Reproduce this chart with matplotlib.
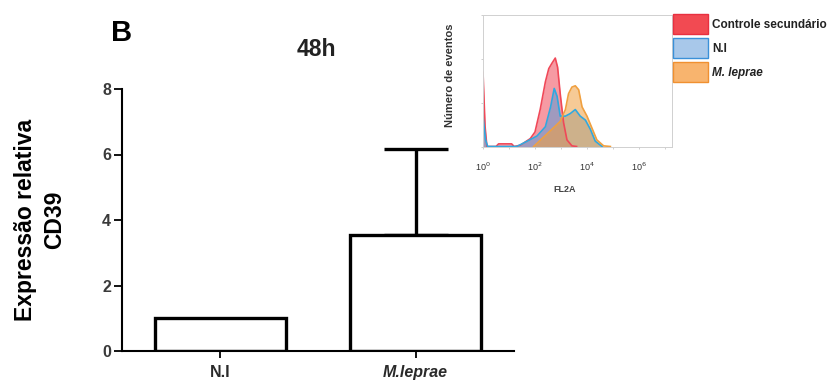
import matplotlib
matplotlib.use("Agg")
import matplotlib.pyplot as plt
from matplotlib.patches import Patch

plt.rcParams['font.family'] = ['Liberation Sans', 'DejaVu Sans']

# Main bar chart data
categories = ["N.I", "M.leprae"]
values = [1.0, 3.55]
errors = [0.0, 2.62]
yticks = [0, 2, 4, 6, 8]

# Inset histogram data (x in log10 units of FL2A, y relative counts)
red_x = [0.0, 0.0, 0.08, 0.15, 0.5, 0.6, 1.1, 1.2, 1.44, 1.82, 2.0, 2.2, 2.4, 2.53, 2.65, 2.78, 2.87, 2.97, 3.1, 3.23, 3.42, 3.6]
red_y = [0, 56.5, 15, 0, 0, 2, 2, 0, 1, 6, 11, 28, 49, 59, 63, 67, 60, 40, 18, 5, 0.5, 0]
blue_x = [0.0, 0.0, 0.1, 0.18, 1.3, 1.7, 2.08, 2.4, 2.6, 2.74, 2.85, 2.97, 3.17, 3.36, 3.55, 3.74, 3.94, 4.13, 4.32, 4.58]
blue_y = [0, 23, 5, 0, 0, 4, 8, 15, 30, 44, 38, 23, 23, 25, 28, 23, 20, 13, 4, 0]
orange_x = [1.95, 2.27, 2.65, 2.97, 3.17, 3.29, 3.42, 3.55, 3.68, 3.81, 4.0, 4.19, 4.38, 4.64, 4.9]
orange_y = [0, 6, 13, 19, 28, 40, 45, 46, 43, 30, 23, 14, 5, 0.5, 0]
hist_xticks = [0, 2, 4, 6]
hist_xticklabels = ["10$^{0}$", "10$^{2}$", "10$^{4}$", "10$^{6}$"]
hist_minor = [1, 3, 5, 7]
legend_labels = ["Controle secundário", "N.I", "M. leprae"]

fig = plt.figure(figsize=(8.29, 3.80), dpi=100)
fig.patch.set_facecolor("white")

ax = fig.add_axes([122/829, 29/380, (514-122)/829, (351-89)/380])
pos = [0, 1]
ax.bar(pos, values, width=0.67, facecolor="white", edgecolor="black", linewidth=2.4, zorder=2)
ax.errorbar([pos[1]], [values[1]], yerr=[[0], [errors[1]]], fmt="none", ecolor="black",
            elinewidth=2.4, capsize=23, capthick=2.4, zorder=1)
ax.set_xlim(-0.504, 1.504)
ax.set_ylim(0, 8)
ax.set_yticks(yticks)
ax.set_xticks(pos)
ax.set_xticklabels(categories, fontsize=11.5, fontweight="bold")
ax.get_xticklabels()[1].set_style("italic")
for t in ax.get_yticklabels():
    t.set_fontweight("bold")
ax.tick_params(axis="y", labelsize=11.5, length=6, width=1.3, colors="black", labelcolor="#3a3a3a", pad=2)
ax.tick_params(axis="x", length=5, width=1.3, pad=5, labelcolor="#2a2a2a")
for s in ["top", "right"]:
    ax.spines[s].set_visible(False)
for s in ["left", "bottom"]:
    ax.spines[s].set_linewidth(1.5)
ax.set_ylabel("Expressão relativa\nCD39", fontsize=16.5, fontweight="bold", labelpad=26, linespacing=1.3)
fig.text(316/829, 1 - 50/380, "48h", fontsize=16.5, fontweight="bold", ha="center", va="center", color="#222222")
fig.text(111/829, 1 - 33/380, "B", fontsize=21, fontweight="bold", ha="left", va="center")

# Inset
axi = fig.add_axes([483/829, 1 - 146.5/380, 189/829, 132/380])
axi.fill_between(red_x, red_y, color="#f04858", alpha=0.55, linewidth=0)
axi.plot(red_x, red_y, color="#f04858", linewidth=1.2)
axi.fill_between(blue_x, blue_y, color="#5a9ad5", alpha=0.55, linewidth=0)
axi.plot(blue_x, blue_y, color="#30a8e0", linewidth=1.2)
axi.fill_between(orange_x, orange_y, color="#f0a040", alpha=0.55, linewidth=0)
axi.plot(orange_x, orange_y, color="#f0a040", linewidth=1.2)
axi.set_xlim(0, 7.27)
axi.set_ylim(0, 100)
axi.set_xticks(hist_xticks)
axi.set_xticks(hist_minor, minor=True)
axi.set_xticklabels(hist_xticklabels, fontsize=6.5)
axi.set_yticks([0, 33, 66, 100])
axi.set_yticklabels([])
axi.tick_params(axis="both", which="both", length=1.5, width=0.5, colors="#bbbbbb", labelcolor="#333333", pad=9)
for s in axi.spines.values():
    s.set_color("#d0d0d0")
    s.set_linewidth(0.7)
axi.set_ylabel("Número de eventos", fontsize=8, fontweight="bold", color="#333333")
axi.yaxis.set_label_coords((455 - 483) / 189, 0.54)
axi.set_xlabel("FL2A", fontsize=6.5, fontweight="bold", color="#444444")
axi.xaxis.set_label_coords((565 - 483) / 189, (146 - 185) / 132)

handles = [Patch(facecolor="#f24a52", edgecolor="#e83040", linewidth=1),
           Patch(facecolor="#a8c8ea", edgecolor="#3a90d8", linewidth=1),
           Patch(facecolor="#f8b46e", edgecolor="#f09030", linewidth=1)]
leg = axi.legend(handles, legend_labels, loc="upper left", bbox_to_anchor=(1.005, 1.0), frameon=False,
                 fontsize=8.5, handlelength=3.0, handleheight=2.2, labelspacing=0.35, handletextpad=0.3,
                 borderaxespad=0.0, borderpad=0.0)
for i, t in enumerate(leg.get_texts()):
    t.set_fontweight("bold")
    t.set_color("#222222")
    if i == 2:
        t.set_style("italic")

fig.savefig("out.png", dpi=100, facecolor="white")
